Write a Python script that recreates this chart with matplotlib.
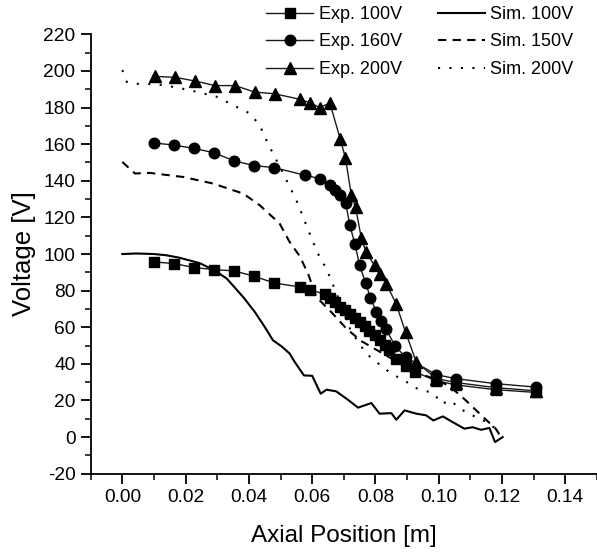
import matplotlib
matplotlib.use("Agg")
import matplotlib.pyplot as plt
from matplotlib.ticker import MultipleLocator

plt.rcParams['font.family'] = ['Liberation Sans', 'DejaVu Sans']

# ---- data ----
exp100_x = [0.0100, 0.0163, 0.0227, 0.0290, 0.0353, 0.0416, 0.0480, 0.0561, 0.0592, 0.0640,
            0.0655, 0.0671, 0.0687, 0.0703, 0.0718, 0.0734, 0.0750, 0.0766, 0.0781, 0.0797,
            0.0813, 0.0829, 0.0844, 0.0866, 0.0895, 0.0926, 0.0992, 0.1055, 0.1180, 0.1307]
exp100_y = [95.7, 94.8, 92.6, 91.5, 90.8, 87.9, 84.2, 82.0, 80.6, 78.0,
            76.1, 73.8, 71.0, 69.2, 67.0, 65.3, 62.9, 60.5, 58.0, 55.6,
            53.3, 50.1, 47.4, 42.9, 38.6, 35.5, 30.8, 28.5, 25.9, 24.4]

exp160_x = [0.0100, 0.0163, 0.0227, 0.0290, 0.0353, 0.0417, 0.0480, 0.0578, 0.0624, 0.0655,
            0.0672, 0.0688, 0.0706, 0.0719, 0.0735, 0.0750, 0.0769, 0.0784, 0.0803, 0.0818,
            0.0832, 0.0863, 0.0895, 0.0992, 0.1055, 0.1180, 0.1307]
exp160_y = [160.7, 159.5, 157.7, 155.3, 150.9, 148.3, 147.2, 143.0, 141.2, 137.6,
            135.0, 132.0, 127.8, 115.7, 105.5, 93.9, 84.2, 76.2, 68.3, 63.4,
            59.3, 49.6, 43.7, 34.1, 31.9, 29.2, 27.3]

exp200_x = [0.0104, 0.0167, 0.0230, 0.0293, 0.0356, 0.0418, 0.0482, 0.0562, 0.0594, 0.0624,
            0.0656, 0.0689, 0.0705, 0.0724, 0.0737, 0.0755, 0.0770, 0.0797, 0.0813, 0.0834,
            0.0866, 0.0895, 0.0929, 0.0992, 0.1055, 0.1180, 0.1307]
exp200_y = [197.0, 196.5, 194.5, 192.0, 192.0, 188.5, 187.5, 184.5, 182.5, 180.0,
            182.5, 162.6, 152.6, 132.0, 125.7, 109.0, 101.0, 93.8, 89.3, 83.9,
            72.5, 57.4, 41.0, 32.0, 29.8, 27.0, 25.3]

sim100_x = [0.0, 0.0045, 0.010, 0.014, 0.018, 0.0245, 0.0292, 0.033, 0.0382, 0.0419,
            0.045, 0.0476, 0.0503, 0.0529, 0.0545, 0.0574, 0.0600, 0.0627, 0.0645, 0.0676,
            0.0713, 0.0745, 0.0787, 0.0813, 0.085, 0.0866, 0.0892, 0.0929, 0.096, 0.0983,
            0.1013, 0.1044, 0.1081, 0.1107, 0.1134, 0.1160, 0.1178, 0.1202]
sim100_y = [100.0, 100.3, 100.0, 99.3, 98.0, 95.0, 91.0, 86.6, 76.5, 68.3,
            60.2, 52.9, 49.6, 45.6, 41.0, 33.7, 33.5, 23.7, 25.9, 25.0,
            20.4, 16.1, 18.6, 12.8, 13.1, 9.5, 14.6, 12.8, 11.9, 9.1,
            11.3, 8.2, 4.6, 5.4, 4.0, 5.0, -2.7, 0.0]

sim150_x = [0.0, 0.004, 0.0087, 0.0192, 0.0287, 0.0382, 0.0434, 0.0497, 0.0529, 0.056,
            0.0587, 0.0613, 0.0655, 0.0708, 0.0755, 0.080, 0.085, 0.090, 0.095, 0.100,
            0.104, 0.1086, 0.1134, 0.118, 0.1197]
sim150_y = [150.3, 144.0, 144.3, 142.1, 138.5, 133.0, 126.7, 116.7, 106.5, 99.0,
            89.3, 76.5, 69.3, 59.3, 52.5, 48.0, 43.0, 38.0, 34.0, 31.0,
            27.0, 20.0, 12.0, 4.6, 0.0]

sim200_x = [0.0, 0.0014, 0.0045, 0.0108, 0.0172, 0.0235, 0.0298, 0.0361, 0.0403, 0.0434,
            0.046, 0.0487, 0.0519, 0.055, 0.0571, 0.0592, 0.0618, 0.0645, 0.066, 0.068,
            0.070, 0.072, 0.0745, 0.0771, 0.0803, 0.0829, 0.086, 0.0892, 0.0923, 0.0955,
            0.0986, 0.1008, 0.1039, 0.1065, 0.1097, 0.1125, 0.1155, 0.1186]
sim200_y = [200.5, 194.0, 193.0, 192.8, 191.0, 188.6, 185.9, 180.4, 176.8, 170.4,
            160.4, 151.3, 140.3, 129.4, 120.3, 111.2, 100.3, 92.0, 85.7, 77.0,
            68.0, 59.0, 52.0, 45.6, 41.0, 37.4, 33.7, 31.0, 27.0, 25.5,
            23.7, 18.2, 20.0, 15.5, 13.0, 10.0, 8.2, 3.6]

x_ticks = [0.00, 0.02, 0.04, 0.06, 0.08, 0.10, 0.12, 0.14]
y_ticks = [-20, 0, 20, 40, 60, 80, 100, 120, 140, 160, 180, 200, 220]

# ---- figure ----
fig = plt.figure(figsize=(5.97, 5.52), dpi=100)
ax = fig.add_axes([0.1519, 0.1418, 0.848, 0.796])

lc = '#1a1a1a'
h1, = ax.plot(exp100_x, exp100_y, '-', color=lc, lw=1.0, marker='s', ms=6.8,
              mfc='black', mec='black', label='Exp. 100V')
h2, = ax.plot(exp160_x, exp160_y, '-', color=lc, lw=1.0, marker='o', ms=7.6,
              mfc='black', mec='black', label='Exp. 160V')
h3, = ax.plot(exp200_x, exp200_y, '-', color=lc, lw=1.0, marker='^', ms=8.2,
              mfc='black', mec='black', label='Exp. 200V')
h4, = ax.plot(sim100_x, sim100_y, '-', color='black', lw=1.5, label='Sim. 100V')
h5, = ax.plot(sim150_x, sim150_y, color='black', lw=1.5, linestyle=(0, (4, 3)),
              label='Sim. 150V')
h6, = ax.plot(sim200_x, sim200_y, color='black', lw=1.5, linestyle=(0, (1, 4.5)),
              label='Sim. 200V')

ax.set_xlim(-0.01, 0.15)
ax.set_ylim(-20, 220)
ax.set_xticks(x_ticks)
ax.set_xticklabels([f"{v:.2f}" for v in x_ticks])
ax.set_yticks(y_ticks)
ax.set_yticklabels([str(v) for v in y_ticks])
ax.xaxis.set_minor_locator(MultipleLocator(0.01))
ax.yaxis.set_minor_locator(MultipleLocator(10))

for s in ['top', 'right']:
    ax.spines[s].set_visible(False)
for s in ['left', 'bottom']:
    ax.spines[s].set_linewidth(1.3)
ax.tick_params(which='major', direction='out', length=7, width=1.3, labelsize=13.8, pad=4)
ax.tick_params(which='minor', direction='out', length=4, width=1.1)

ax.set_xlabel('Axial Position [m]', fontsize=17.5, labelpad=14)
ax.set_ylabel('Voltage [V]', fontsize=18.5, labelpad=5)

fig.legend(handles=[h1, h2, h3, h4, h5, h6], loc='center', ncol=2,
           bbox_to_anchor=(0.7035, 0.924), frameon=False, fontsize=13,
           handlelength=2.6, handletextpad=0.3, columnspacing=2.0,
           labelspacing=0.58, borderaxespad=0, borderpad=0, numpoints=1)

fig.savefig('out.png', dpi=100)
